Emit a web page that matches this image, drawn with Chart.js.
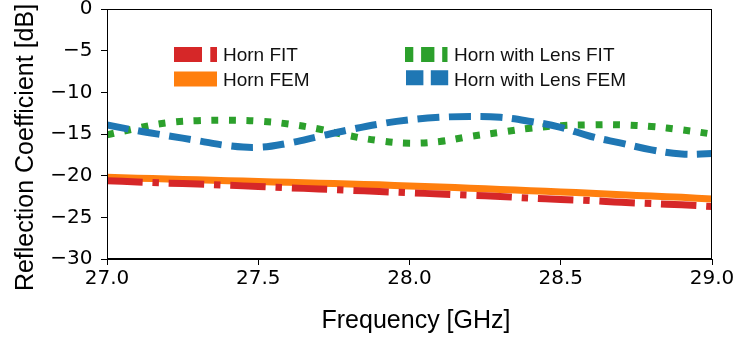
<!DOCTYPE html>
<html lang="en">
<head>
    <meta charset="UTF-8">
    <title>Reflection Coefficient</title>
    <script src="https://cdn.jsdelivr.net/npm/chart.js"></script>
    <style>
      html, body { margin: 0; padding: 0; background: #fff; }
      .chart-box { width: 737px; height: 337px; }
    </style>
</head>
<body>
<div class="chart-box">
    <canvas id="reflChart"></canvas>
</div>

<script>
    // frequency points (GHz) and S11 values (dB)
    const freqGHz = [27.0, 27.1, 27.2, 27.3, 27.4, 27.5, 27.6, 27.7, 27.8, 27.9, 28.0,
                     28.1, 28.2, 28.3, 28.4, 28.5, 28.6, 28.7, 28.8, 28.9, 29.0];
    const hornFit = [-20.6, -20.75, -20.9, -21.0, -21.15, -21.3, -21.45, -21.6, -21.75, -21.9, -22.05,
                     -22.2, -22.35, -22.5, -22.7, -22.85, -23.0, -23.2, -23.35, -23.5, -23.7];
    const hornFem = [-20.2, -20.3, -20.4, -20.5, -20.6, -20.7, -20.8, -20.9, -21.0, -21.1, -21.25,
                     -21.35, -21.5, -21.65, -21.8, -21.95, -22.1, -22.3, -22.45, -22.6, -22.8];
    const lensFit = [-15.1, -14.3, -13.65, -13.4, -13.35, -13.45, -13.8, -14.4, -15.2, -15.8, -16.1,
                     -15.9, -15.3, -14.8, -14.3, -14.0, -13.9, -13.9, -14.1, -14.5, -15.0];
    const lensFem = [-13.9, -14.6, -15.2, -15.8, -16.4, -16.6, -16.1, -15.3, -14.5, -13.8, -13.3,
                     -13.0, -12.9, -13.0, -13.5, -14.2, -15.3, -16.1, -16.9, -17.4, -17.35];

    const seriesNames = ['Horn FIT', 'Horn FEM', 'Horn with Lens FIT', 'Horn with Lens FEM'];
    const xTicks = [27.0, 27.5, 28.0, 28.5, 29.0];
    const yTicks = [0, -5, -10, -15, -20, -25, -30];
    const xTitle = 'Frequency [GHz]';
    const yTitle = 'Reflection Coefficient [dB]';

    const tickFont = { family: 'DejaVu Sans', size: 20 };

    function pts(ys) {
      return freqGHz.map((f, i) => ({ x: f, y: ys[i] }));
    }

    // legend drawn inside the plot, two columns like the original
    const insideLegend = {
      id: 'insideLegend',
      afterDraw(chart) {
        const ctx = chart.ctx;
        const items = [
          { i: 0, x: 174, y: 54.5, w: 43, dash: [28, 8.3, 6.8, 10], off: 0, tx: 223, ty: 60.5 },
          { i: 1, x: 174, y: 79, w: 43, dash: [], off: 0, tx: 223, ty: 85.5 },
          { i: 2, x: 405, y: 54.5, w: 42.5, dash: [13.3, 7.8], off: 5, tx: 454, ty: 60.5 },
          { i: 3, x: 406, y: 77.8, w: 42.5, dash: [17.4, 7.4], off: 0, tx: 454, ty: 85.5 }
        ];
        ctx.save();
        items.forEach(it => {
          const ds = chart.data.datasets[it.i];
          ctx.strokeStyle = ds.borderColor;
          ctx.lineWidth = 15;
          ctx.lineCap = 'butt';
          ctx.setLineDash(it.dash);
          ctx.lineDashOffset = it.off;
          ctx.beginPath();
          ctx.moveTo(it.x, it.y);
          ctx.lineTo(it.x + it.w, it.y);
          ctx.stroke();
          ctx.setLineDash([]);
          ctx.fillStyle = '#111';
          ctx.font = '19px "Liberation Sans"';
          ctx.textBaseline = 'alphabetic';
          ctx.fillText(ds.label, it.tx, it.ty);
        });
        ctx.restore();
      }
    };

    // full frame around the axes + axis titles (placed like the original, a bit off-centre)
    const frameBox = {
      id: 'frameBox',
      afterDatasetsDraw(chart) {
        const a = chart.chartArea;
        const ctx = chart.ctx;
        ctx.save();
        ctx.strokeStyle = '#000';
        ctx.lineWidth = 1;
        ctx.strokeRect(Math.round(a.left) + 0.5, Math.round(a.top) + 0.5,
                       Math.round(a.right - a.left) - 1, Math.round(a.bottom - a.top) - 1);
        ctx.fillStyle = '#000';
        ctx.font = '25px "Liberation Sans"';
        ctx.textAlign = 'center';
        ctx.textBaseline = 'alphabetic';
        ctx.fillText(xTitle, (a.left + a.right) / 2 + 6.5, 327.5);
        ctx.translate(33, (a.top + a.bottom) / 2 + 13.5);
        ctx.rotate(-Math.PI / 2);
        ctx.fillText(yTitle, 0, 0);
        ctx.restore();
      }
    };

    const ctx = document.getElementById('reflChart').getContext('2d');
    new Chart(ctx, {
      type: 'line',
      data: {
        datasets: [
          { label: seriesNames[0], data: pts(hornFit), borderColor: '#d62728', borderWidth: 7,
            borderDash: [35.5, 10, 6.5, 9.6], order: 2 },
          { label: seriesNames[1], data: pts(hornFem), borderColor: '#ff7f0e', borderWidth: 7,
            order: 3 },
          { label: seriesNames[2], data: pts(lensFit), borderColor: '#2ca02c', borderWidth: 7,
            borderDash: [7, 10.6], order: 1 },
          { label: seriesNames[3], data: pts(lensFem), borderColor: '#1f77b4', borderWidth: 7,
            borderDash: [22, 9.5], order: 0 }
        ]
      },
      options: {
        responsive: true,
        maintainAspectRatio: false,
        animation: false,
        events: [],
        layout: { padding: { top: 9, right: 25, left: 0, bottom: 0 } },
        elements: {
          point: { radius: 0 },
          line: { tension: 0.4, fill: false, borderCapStyle: 'butt' }
        },
        plugins: {
          legend: { display: false },
          tooltip: { enabled: false }
        },
        scales: {
          x: {
            type: 'linear',
            min: 27,
            max: 29,
            afterBuildTicks: (s) => { s.ticks = xTicks.map(v => ({ value: v })); },
            afterFit: (s) => { s.height = 78; s.paddingLeft = 0; s.paddingRight = 0; },
            ticks: {
              color: '#000',
              font: tickFont,
              padding: 1.5,
              maxRotation: 0,
              callback: (v) => Number(v).toFixed(1)
            },
            grid: { drawOnChartArea: false, drawTicks: true, tickLength: 6, color: '#000' },
            border: { display: true, color: '#000' }
          },
          y: {
            min: -30,
            max: 0,
            afterBuildTicks: (s) => { s.ticks = yTicks.map(v => ({ value: v })); },
            afterFit: (s) => { s.width = 107; s.paddingTop = 0; s.paddingBottom = 0; },
            ticks: {
              color: '#000',
              font: tickFont,
              padding: 8.5,
              callback: (v) => (v < 0 ? '\u2212' + Math.abs(v) : String(v))
            },
            grid: { drawOnChartArea: false, drawTicks: true, tickLength: 6, color: '#000' },
            border: { display: true, color: '#000' }
          }
        }
      },
      plugins: [insideLegend, frameBox]
    });
</script>
</body>
</html>
